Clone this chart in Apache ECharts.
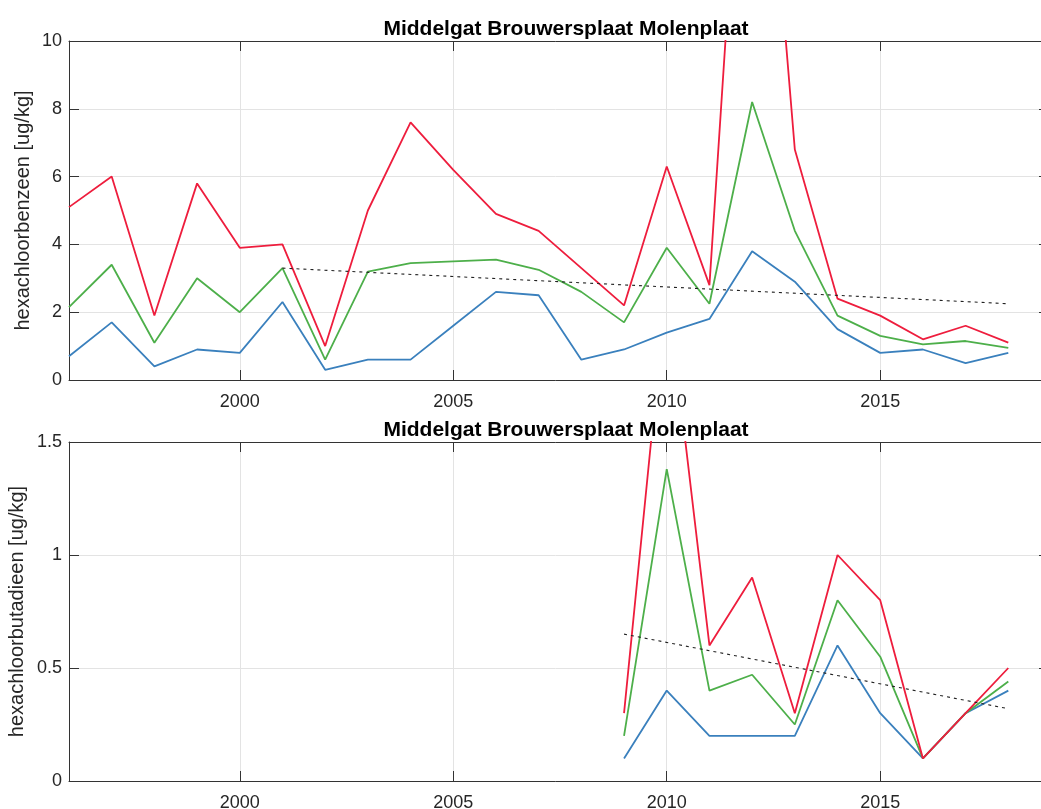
<!DOCTYPE html>
<html>
<head>
<meta charset="utf-8">
<script src="https://cdn.jsdelivr.net/npm/echarts@6/dist/echarts.min.js"></script>
<style>
html,body{margin:0;padding:0;background:#fff;}
#chart{width:1041px;height:809px;}
</style>
</head>
<body>
<div id="chart"></div>
<script>
// ---- data ----
const chartTitle = "Middelgat Brouwersplaat Molenplaat";
const yLabelTop = "hexachloorbenzeen [ug/kg]";
const yLabelBottom = "hexachloorbutadieen [ug/kg]";

const yearsHCB = [1996,1997,1998,1999,2000,2001,2002,2003,2004,2005,2006,2007,2008,2009,2010,2011,2012,2013,2014,2015,2016,2017,2018];
const hcbRed   = [5.1, 6.0, 1.9, 5.8, 3.9, 4.0, 1.0, 5.0, 7.6, 6.2, 4.9, 4.4, 3.3, 2.2, 6.3, 2.8, 22, 6.8, 2.4, 1.9, 1.2, 1.6, 1.1];
const hcbGreen = [2.15, 3.4, 1.1, 3.0, 2.0, 3.3, 0.6, 3.2, 3.45, 3.5, 3.55, 3.25, 2.6, 1.7, 3.9, 2.25, 8.2, 4.4, 1.9, 1.3, 1.05, 1.15, 0.95];
const hcbBlue  = [0.7, 1.7, 0.4, 0.9, 0.8, 2.3, 0.3, 0.6, 0.6, 1.6, 2.6, 2.5, 0.6, 0.9, 1.4, 1.8, 3.8, 2.9, 1.5, 0.8, 0.9, 0.5, 0.8];
const hcbTrendYears = [2001, 2018];
const hcbTrend = [3.3, 2.25];

const yearsHCBD = [2009,2010,2011,2012,2013,2014,2015,2016,2017,2018];
const hcbdRed   = [0.3, 2.2, 0.6, 0.9, 0.3, 1.0, 0.8, 0.1, 0.3, 0.5];
const hcbdGreen = [0.2, 1.38, 0.4, 0.47, 0.25, 0.8, 0.55, 0.1, 0.3, 0.44];
const hcbdBlue  = [0.1, 0.4, 0.2, 0.2, 0.2, 0.6, 0.3, 0.1, 0.3, 0.4];
const hcbdTrendYears = [2009, 2018];
const hcbdTrend = [0.65, 0.32];

const xMin = 1996, xMax = 2019;
const yTopMax = 10, yTopInterval = 2;
const yBotMax = 1.5, yBotInterval = 0.5;

// ---- styles ----
const FONT = "Liberation Sans, Arial, Helvetica, sans-serif";
const RED = "#ee1d3d", GREEN = "#4daf4a", BLUE = "#3a80bd";
const AXIS = "#333333", GRIDC = "#e3e3e3", TXT = "#262626";

function zip(xs, ys){ return xs.map((x,i)=>[x, ys[i]]); }

function xAxisPair(gridIndex){
  return [
    { type:'value', gridIndex, min:xMin, max:xMax, position:'bottom',
      axisLine:{show:true, onZero:false, lineStyle:{color:AXIS, width:1}},
      axisTick:{show:true, inside:true, length:10, lineStyle:{color:AXIS}},
      axisLabel:{show:true, color:TXT, fontFamily:FONT, fontSize:18, margin:13,
                 showMinLabel:false, showMaxLabel:false,
                 formatter:(v)=>String(v)},
      splitLine:{show:true, lineStyle:{color:GRIDC, width:1}} },
    { type:'value', gridIndex, min:xMin, max:xMax, position:'top',
      axisLine:{show:true, onZero:false, lineStyle:{color:AXIS, width:1}},
      axisTick:{show:true, inside:true, length:10, lineStyle:{color:AXIS}},
      axisLabel:{show:false}, splitLine:{show:false} }
  ];
}
function yAxisPair(gridIndex, max, interval, name, gap){
  return [
    { type:'value', gridIndex, min:0, max, interval, position:'left',
      name, nameLocation:'middle', nameGap:gap, nameMoveOverlap:false,
      nameTextStyle:{color:TXT, fontFamily:FONT, fontSize:20},
      axisLine:{show:true, onZero:false, lineStyle:{color:AXIS, width:1}},
      axisTick:{show:true, inside:true, length:10, lineStyle:{color:AXIS}},
      axisLabel:{show:true, color:TXT, fontFamily:FONT, fontSize:18, margin:7},
      splitLine:{show:true, lineStyle:{color:GRIDC, width:1}} },
    { type:'value', gridIndex, min:0, max, interval, position:'right',
      axisLine:{show:true, onZero:false, lineStyle:{color:AXIS, width:1}},
      axisTick:{show:true, inside:true, length:12, lineStyle:{color:AXIS}},
      axisLabel:{show:false}, splitLine:{show:false} }
  ];
}
function lineSeries(xi, yi, data, color){
  return { type:'line', xAxisIndex:xi, yAxisIndex:yi, data, showSymbol:false,
           symbol:'none', clip:true, animation:false,
           lineStyle:{color, width:1.8} };
}
function trendSeries(xi, yi, data){
  return { type:'line', xAxisIndex:xi, yAxisIndex:yi, data, showSymbol:false,
           symbol:'none', clip:true, animation:false, z:5,
           lineStyle:{color:'#222', width:1.1, type:[3,4]} };
}

const chart = echarts.init(document.getElementById('chart'), null, {renderer:'canvas'});
chart.setOption({
  backgroundColor:'#ffffff',
  animation:false,
  title:[
    { text:chartTitle, left:561, top:14, textAlign:'center',
      textStyle:{fontFamily:FONT, fontWeight:'bold', fontSize:21, color:'#000'} },
    { text:chartTitle, left:561, top:415, textAlign:'center',
      textStyle:{fontFamily:FONT, fontWeight:'bold', fontSize:21, color:'#000'} }
  ],
  grid:[
    { left:69, top:41, width:982, height:339, containLabel:false, outerBoundsMode:'none' },
    { left:69, top:442, width:982, height:339, containLabel:false, outerBoundsMode:'none' }
  ],
  xAxis:[...xAxisPair(0), ...xAxisPair(1)],
  yAxis:[...yAxisPair(0, yTopMax, yTopInterval, yLabelTop, 36),
         ...yAxisPair(1, yBotMax, yBotInterval, yLabelBottom, 42)],
  series:[
    lineSeries(0,0, zip(yearsHCB, hcbBlue), BLUE),
    lineSeries(0,0, zip(yearsHCB, hcbGreen), GREEN),
    lineSeries(0,0, zip(yearsHCB, hcbRed), RED),
    trendSeries(0,0, zip(hcbTrendYears, hcbTrend)),
    lineSeries(2,2, zip(yearsHCBD, hcbdBlue), BLUE),
    lineSeries(2,2, zip(yearsHCBD, hcbdGreen), GREEN),
    lineSeries(2,2, zip(yearsHCBD, hcbdRed), RED),
    trendSeries(2,2, zip(hcbdTrendYears, hcbdTrend))
  ]
});
</script>
</body>
</html>
